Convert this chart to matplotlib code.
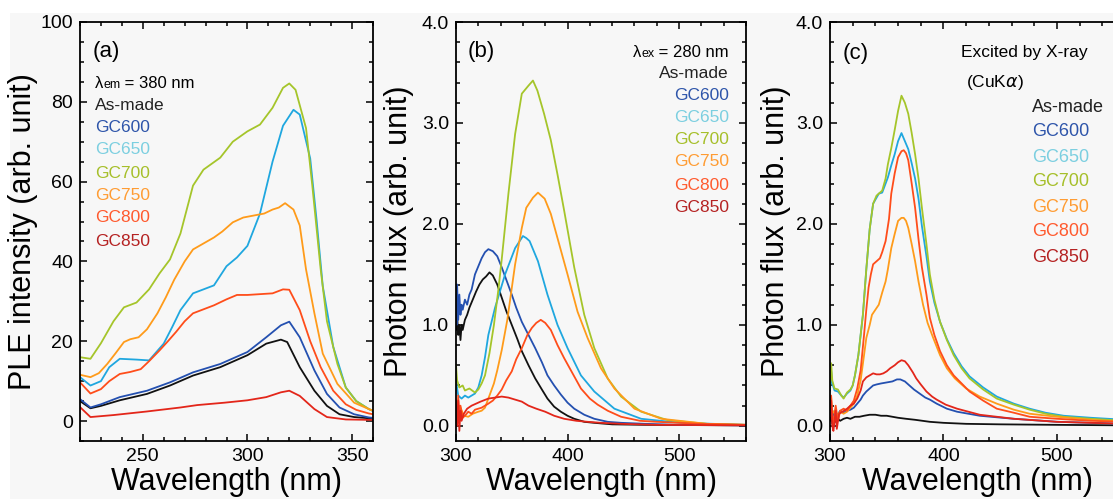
import numpy as np
import matplotlib.pyplot as plt
from matplotlib.ticker import MultipleLocator, FormatStrFormatter
from matplotlib.patches import Rectangle

plt.rcParams['font.family'] = ['Liberation Sans', 'DejaVu Sans']

W, H = 1113, 499
BG = '#f7f7f7'

names = ['As-made', 'GC600', 'GC650', 'GC700', 'GC750', 'GC800', 'GC850']
line_cols = ['#111111', '#2450b0', '#1fa7df', '#a5c52a', '#ff9b1a', '#ff4d1a', '#e3261a']
text_cols = ['#222222', '#2e55aa', '#7ccfe0', '#a6bf2a', '#ff9c33', '#ff5a2e', '#b52222']

# ---- (a) PLE, lambda_em = 380 nm ----
a_asmade_x = [220, 225, 230, 239, 252, 263, 274, 287, 300, 309, 316, 319, 325, 332, 338, 344, 351, 358, 360]
a_asmade_y = [5, 3.2, 3.8, 5.2, 6.8, 8.9, 11.4, 13.5, 16.5, 19.4, 20.4, 19.8, 13.5, 7.6, 3.8, 1.7, 1.0, 0.7, 0.7]
a_gc600_x = [220, 225, 230, 239, 252, 263, 274, 287, 300, 309, 316, 320, 325, 332, 338, 344, 351, 358, 360]
a_gc600_y = [5.5, 3.4, 4.2, 6, 7.6, 9.7, 12.2, 14.3, 17.3, 21, 24, 24.9, 21, 12.7, 6.8, 3.4, 1.7, 0.9, 0.8]
a_gc650_x = [220, 225, 230, 234, 239, 243, 247, 253, 260, 264, 268, 274, 279, 284, 290, 295, 300, 306, 312,
             317, 322, 325, 330, 333, 336, 341, 347, 352, 358, 360]
a_gc650_y = [11, 8.9, 10, 13.5, 15.6, 15.5, 15.4, 15.2, 19.4, 23.5, 27.8, 32, 33, 34, 38.8, 41, 43.9, 52, 65,
             74, 78, 76.8, 65.8, 50.6, 33.8, 18.6, 8.4, 5, 3, 2.5]
a_gc700_x = [220, 225, 230, 236, 241, 247, 253, 258, 263, 268, 274, 279, 287, 293, 300, 306, 312, 317, 320,
             323, 328, 331, 335, 338, 343, 347, 352, 358, 360]
a_gc700_y = [16.0, 15.6, 19.5, 25, 28.5, 29.7, 33.0, 37, 40.5, 47, 59, 63, 66, 70, 72.6, 74.3, 78.5, 83.5, 84.6,
             83, 73.4, 59, 38, 25, 14.3, 8.4, 5, 3, 2.6]
a_gc750_x = [220, 225, 229, 233, 237, 241, 244, 248, 252, 257, 261, 265, 270, 274, 279, 284, 288, 293, 298,
             303, 308, 312, 315, 318, 322, 325, 328, 332, 336, 343, 351, 358, 360]
a_gc750_y = [11.6, 11, 12, 14.3, 17, 19.8, 20.5, 21, 23, 27, 31, 35.4, 40, 43, 44.5, 46, 47.5, 49.8, 51,
             51.5, 52, 53, 53.5, 54.6, 53, 49, 38, 27, 16.9, 9.3, 4.6, 3, 2.6]
a_gc800_x = [220, 225, 230, 234, 239, 244, 249, 253, 258, 262, 266, 270, 274, 279, 284, 290, 295, 300, 306,
             312, 317, 320, 325, 330, 335, 341, 347, 352, 358, 360]
a_gc800_y = [9.7, 6.9, 8, 10, 11.8, 12.3, 13, 15, 17.7, 20, 22.4, 25, 27, 28, 29, 30.5, 31.6, 31.6, 31.8,
             32, 33, 32.9, 27.8, 20, 13.5, 7.6, 4.2, 2.8, 1.9, 1.7]
a_gc850_x = [220, 225, 236, 252, 268, 276, 289, 300, 309, 316, 320, 325, 332, 338, 347, 358, 360]
a_gc850_y = [3.5, 1.0, 1.5, 2.4, 3.4, 4.0, 4.6, 5.2, 6.0, 7.2, 7.6, 6.3, 3.0, 1.0, 0.4, 0.3, 0.3]

# ---- (b) PL, lambda_ex = 280 nm ----
b_asmade_x = [300, 300.5, 301, 302, 303, 304, 305, 306, 308, 310, 312, 315, 318, 321, 324, 327, 330, 333, 337,
              341, 345, 350, 355, 359, 365, 371, 377, 382, 388, 394, 400, 406, 415, 424, 440, 470, 560]
b_asmade_y = [1.05, 0.95, 1.1, 0.9, 1.0, 0.85, 1.0, 0.95, 1.05, 1.1, 1.17, 1.25, 1.33, 1.40, 1.45, 1.48, 1.52,
              1.49, 1.40, 1.27, 1.14, 1.00, 0.86, 0.74, 0.60, 0.47, 0.36, 0.27, 0.19, 0.14, 0.10, 0.07, 0.04,
              0.03, 0.015, 0.01, 0.005]
b_gc600_x = [300, 300.5, 301, 302, 303, 304, 305, 306, 308, 310, 312, 314, 317, 320, 323, 326, 329, 333, 337,
             341, 345, 350, 354, 359, 365, 371, 377, 382, 388, 394, 400, 406, 415, 424, 436, 448, 470, 500, 560]
b_gc600_y = [1.35, 1.0, 1.4, 1.05, 1.3, 1.1, 1.2, 1.15, 1.25, 1.2, 1.3, 1.35, 1.5, 1.58, 1.66, 1.72, 1.75,
             1.73, 1.68, 1.57, 1.45, 1.30, 1.17, 1.03, 0.90, 0.77, 0.63, 0.50, 0.40, 0.31, 0.23, 0.17, 0.11,
             0.07, 0.04, 0.03, 0.02, 0.01, 0.005]
b_gc650_x = [300, 302, 305, 308, 311, 314, 317, 320, 323, 326, 329, 335, 344, 353, 360, 363, 366, 369, 373.5,
             382, 391, 400, 412, 424, 442, 466, 501, 560]
b_gc650_y = [0.45, 0.3, 0.27, 0.3, 0.28, 0.3, 0.32, 0.38, 0.50, 0.68, 0.9, 1.17, 1.50, 1.76, 1.88, 1.86, 1.83,
             1.75, 1.63, 1.30, 1.00, 0.77, 0.50, 0.34, 0.17, 0.07, 0.03, 0.01]
b_gc700_x = [300, 301, 303, 306, 308, 312, 317, 320, 323, 326, 330, 334, 338, 341, 347, 353, 359, 365, 369,
             373, 379, 385, 391, 397, 406, 415, 424, 436, 448, 466, 490, 525, 560]
b_gc700_y = [0.6, 0.45, 0.38, 0.4, 0.35, 0.37, 0.33, 0.36, 0.42, 0.5, 0.72, 1.0, 1.35, 1.65, 2.3, 2.89, 3.29,
             3.37, 3.42, 3.32, 3.09, 2.83, 2.49, 2.13, 1.57, 1.10, 0.77, 0.47, 0.29, 0.14, 0.056, 0.02, 0.01]
b_gc750_x = [300, 302, 304, 307, 311, 315, 320, 323, 326, 330, 334, 337, 341, 346, 353, 359, 363, 369, 373.5,
             379.5, 385, 391, 400, 409, 418, 430, 442, 460, 484, 525, 560]
b_gc750_y = [0.2, 0.12, 0.18, 0.1, 0.09, 0.12, 0.14, 0.15, 0.18, 0.3, 0.42, 0.55, 0.75, 1.05, 1.6, 1.96, 2.16,
             2.26, 2.31, 2.25, 2.10, 1.86, 1.50, 1.13, 0.87, 0.57, 0.37, 0.17, 0.07, 0.02, 0.01]
b_gc800_x = [300, 301, 302, 303, 304, 306, 308, 311, 314, 317, 320, 323, 326, 329, 333, 337, 341, 345, 350,
             354, 359, 364, 368, 372, 376, 380, 385, 391, 397, 403, 412, 420, 427, 436, 448, 465, 480, 520, 560]
b_gc800_y = [0.25, 0.05, 0.3, 0.1, 0.2, 0.08, 0.1, 0.14, 0.12, 0.16, 0.17, 0.18, 0.2, 0.22, 0.25, 0.3, 0.36,
             0.45, 0.54, 0.66, 0.77, 0.9, 0.97, 1.02, 1.05, 1.02, 0.95, 0.80, 0.67, 0.55, 0.37, 0.27, 0.21,
             0.15, 0.09, 0.05, 0.04, 0.02, 0.01]
b_gc850_x = [300, 301, 302, 303, 304, 305, 307, 310, 314, 318, 322, 329, 335, 341, 347, 353, 359, 365, 372,
             380, 388, 397, 408, 418, 430, 448, 480, 560]
b_gc850_y = [0.2, 0.0, 0.25, -0.05, 0.15, 0.05, 0.12, 0.17, 0.2, 0.22, 0.24, 0.27, 0.28, 0.29, 0.28, 0.26,
             0.24, 0.2, 0.17, 0.14, 0.1, 0.07, 0.05, 0.04, 0.03, 0.02, 0.01, 0.005]

# ---- (c) X-ray excited luminescence ----
c_asmade_x = [300, 301, 302, 303, 305, 307, 309, 312, 315, 318, 322, 326, 330, 335, 340, 345, 350, 355, 360,
              367, 375, 388, 400, 420, 450, 500, 560]
c_asmade_y = [0.05, 0.12, 0.02, 0.08, 0.04, 0.07, 0.05, 0.07, 0.08, 0.07, 0.09, 0.09, 0.10, 0.11, 0.11, 0.10,
              0.10, 0.09, 0.08, 0.07, 0.06, 0.04, 0.03, 0.02, 0.015, 0.01, 0.005]
c_gc600_x = [300, 301, 302, 304, 306, 309, 312, 315, 318, 321, 324, 327, 329, 332, 335, 338, 341, 345, 350,
             355, 359, 362, 366, 370, 374, 379, 384, 388, 394, 403, 412, 432, 462, 500, 560]
c_gc600_y = [0.1, 0.2, 0.08, 0.15, 0.1, 0.15, 0.13, 0.15, 0.16, 0.18, 0.22, 0.26, 0.3, 0.34, 0.37, 0.40, 0.41,
             0.42, 0.43, 0.44, 0.46, 0.46, 0.44, 0.40, 0.36, 0.32, 0.28, 0.26, 0.22, 0.17, 0.14, 0.10, 0.07,
             0.04, 0.02]
c_gc650_x = [300, 301, 302, 304, 307, 310, 312, 315, 318, 320, 322, 325, 329, 332, 335, 338, 341, 343, 346,
             349, 351, 354, 357, 360, 363, 366, 369, 372, 375, 378, 381, 385, 388, 392, 397, 403, 409, 416,
             423, 435, 447, 462, 476, 490, 506, 530, 560]
c_gc650_y = [0.35, 0.55, 0.42, 0.35, 0.34, 0.3, 0.28, 0.32, 0.35, 0.4, 0.5, 0.7, 1.1, 1.55, 1.95, 2.2, 2.26,
             2.3, 2.31, 2.4, 2.46, 2.58, 2.69, 2.82, 2.9, 2.82, 2.74, 2.6, 2.45, 2.25, 1.98, 1.68, 1.43, 1.22,
             1.03, 0.86, 0.72, 0.59, 0.49, 0.38, 0.29, 0.22, 0.17, 0.13, 0.1, 0.08, 0.06]
c_gc700_x = [300, 301, 302, 304, 307, 310, 312, 315, 318, 320, 322, 325, 329, 332, 335, 338, 341, 343, 346,
             349, 351, 354, 357, 360, 363, 366, 369, 372, 375, 378, 381, 385, 388, 392, 397, 403, 409, 416,
             423, 435, 447, 462, 476, 490, 506, 530, 560]
c_gc700_y = [0.4, 0.62, 0.45, 0.37, 0.36, 0.3, 0.27, 0.33, 0.36, 0.4, 0.5, 0.7, 1.1, 1.55, 1.95, 2.2, 2.28,
             2.3, 2.33, 2.45, 2.59, 2.75, 2.93, 3.12, 3.27, 3.2, 3.09, 2.9, 2.69, 2.45, 2.16, 1.8, 1.5, 1.25,
             1.03, 0.85, 0.70, 0.57, 0.47, 0.36, 0.27, 0.21, 0.16, 0.12, 0.09, 0.07, 0.05]
c_gc750_x = [300, 301, 302, 304, 306, 309, 312, 315, 318, 321, 324, 327, 330, 332, 335, 337, 340, 343, 346,
             349, 351, 354, 357, 360, 363, 365, 367, 369, 372, 375, 378, 382, 386, 391, 397, 403, 410, 420,
             432, 447, 462, 476, 500, 530, 560]
c_gc750_y = [0.2, 0.28, 0.12, 0.15, 0.1, 0.14, 0.12, 0.14, 0.18, 0.22, 0.3, 0.45, 0.7, 0.87, 1.0, 1.1, 1.15,
             1.2, 1.32, 1.43, 1.55, 1.76, 1.9, 2.03, 2.06, 2.06, 2.03, 1.96, 1.8, 1.63, 1.43, 1.2, 1.02, 0.87,
             0.7, 0.57, 0.47, 0.37, 0.29, 0.22, 0.16, 0.12, 0.09, 0.06, 0.04]
c_gc800_x = [300, 301, 302, 303, 305, 307, 309, 312, 315, 318, 321, 324, 327, 330, 332, 334, 336, 338, 341,
             344, 346, 349, 352, 354, 357, 360, 363, 365, 367, 369, 372, 375, 378, 381, 385, 388, 392, 397,
             403, 409, 416, 423, 435, 447, 462, 476, 500, 530, 560]
c_gc800_y = [0.15, 0.3, 0.1, 0.02, 0.2, 0.05, 0.15, 0.17, 0.15, 0.2, 0.25, 0.37, 0.55, 0.9, 1.15, 1.37, 1.5,
             1.6, 1.63, 1.66, 1.72, 1.83, 2.05, 2.3, 2.5, 2.66, 2.72, 2.73, 2.7, 2.63, 2.4, 2.16, 1.85, 1.57,
             1.3, 1.07, 0.9, 0.74, 0.6, 0.5, 0.42, 0.34, 0.25, 0.17, 0.13, 0.09, 0.07, 0.05, 0.04]
c_gc850_x = [300, 301, 302, 303, 305, 306, 308, 311, 315, 318, 321, 324, 327, 329, 332, 335, 338, 341, 344,
             347, 350, 353, 357, 360, 363, 366, 369, 373, 376, 380, 385, 390, 394, 402, 412, 432, 462, 500, 560]
c_gc850_y = [0.1, 0.25, 0.0, -0.05, 0.15, -0.03, 0.12, 0.14, 0.17, 0.2, 0.22, 0.27, 0.35, 0.44, 0.48, 0.50,
             0.52, 0.51, 0.51, 0.52, 0.54, 0.57, 0.60, 0.63, 0.65, 0.64, 0.60, 0.53, 0.47, 0.41, 0.34, 0.29,
             0.26, 0.21, 0.17, 0.11, 0.07, 0.04, 0.02]

series_a = [(a_asmade_x, a_asmade_y), (a_gc600_x, a_gc600_y), (a_gc650_x, a_gc650_y), (a_gc700_x, a_gc700_y),
            (a_gc750_x, a_gc750_y), (a_gc800_x, a_gc800_y), (a_gc850_x, a_gc850_y)]
series_b = [(b_asmade_x, b_asmade_y), (b_gc600_x, b_gc600_y), (b_gc650_x, b_gc650_y), (b_gc700_x, b_gc700_y),
            (b_gc750_x, b_gc750_y), (b_gc800_x, b_gc800_y), (b_gc850_x, b_gc850_y)]
series_c = [(c_asmade_x, c_asmade_y), (c_gc600_x, c_gc600_y), (c_gc650_x, c_gc650_y), (c_gc700_x, c_gc700_y),
            (c_gc750_x, c_gc750_y), (c_gc800_x, c_gc800_y), (c_gc850_x, c_gc850_y)]


fig = plt.figure(figsize=(W / 100, H / 100), dpi=100, facecolor='white')
fig.add_artist(Rectangle((10 / W, 0), 1, 1 - 13 / H, transform=fig.transFigure,
                         facecolor=BG, edgecolor='none', zorder=-10))


def make_axes(left_px, width_px):
    ax = fig.add_axes([left_px / W, (H - 441) / H, width_px / W, (441 - 22) / H])
    ax.set_facecolor(BG)
    return ax


def style(ax, xlim, ylim, xmaj, xmin, ymaj, ymin, yfmt, ylabel, ylab_x):
    ax.set_xlim(*xlim)
    ax.set_ylim(*ylim)
    ax.xaxis.set_major_locator(MultipleLocator(xmaj))
    ax.xaxis.set_minor_locator(MultipleLocator(xmin))
    ax.yaxis.set_major_locator(MultipleLocator(ymaj))
    ax.yaxis.set_minor_locator(MultipleLocator(ymin))
    ax.yaxis.set_major_formatter(FormatStrFormatter(yfmt))
    ax.tick_params(which='both', direction='in', top=True, right=True, width=1.1, labelsize=14)
    ax.tick_params(which='major', length=5)
    ax.tick_params(which='minor', length=3)
    ax.tick_params(axis='x', pad=5)
    ax.tick_params(axis='y', pad=5)
    for s in ax.spines.values():
        s.set_linewidth(1.3)
    ax.set_xlabel('Wavelength (nm)', fontsize=22)
    ax.xaxis.set_label_coords(0.5, -0.062)
    ax.set_ylabel(ylabel, fontsize=22)
    ax.yaxis.set_label_coords(ylab_x, 0.5)


def draw(ax, series):
    for (x, y), c in zip(series, line_cols):
        ax.plot(x, y, color=c, lw=1.3)


def label_list(ax, left_px, width_px, x_px, y_list, ha, size):
    for n, c, yp in zip(names, text_cols, y_list):
        ax.text((x_px - left_px) / width_px, (441 - yp) / 419, n, color=c, fontsize=size,
                ha=ha, va='center', transform=ax.transAxes)


# panel (a)
ax1 = make_axes(80, 293)
draw(ax1, series_a)
style(ax1, (220, 360), (-5, 100), 50, 10, 20, 5, '%d', 'PLE intensity (arb. unit)', -0.143)
ax1.text((93 - 80) / 293, (441 - 51) / 419, '(a)', fontsize=16, ha='left', va='center', transform=ax1.transAxes)
t1 = ax1.text((95 - 80) / 293, (441 - 88) / 419, '\u03bb', fontsize=12, ha='left', va='baseline',
              transform=ax1.transAxes)
t2 = ax1.annotate('em', xy=(1, 0), xycoords=t1, fontsize=9, ha='left', va='bottom')
ax1.annotate(' = 380 nm', xy=(1, 0), xycoords=t2, fontsize=12, ha='left', va='bottom')
label_list(ax1, 80, 293, 95, [105, 128, 150, 173, 195, 218, 241], 'left', 12.5)

# panel (b)
ax2 = make_axes(456, 290)
draw(ax2, series_b)
style(ax2, (300, 560), (-0.15, 4.0), 100, 20, 1.0, 0.2, '%.1f', 'Photon flux (arb. unit)', -0.145)
ax2.text((468 - 456) / 290, (441 - 51) / 419, '(b)', fontsize=16, ha='left', va='center', transform=ax2.transAxes)
u1 = ax2.text((729 - 456) / 290, (441 - 57) / 419, ' = 280 nm', fontsize=12, ha='right', va='baseline',
              transform=ax2.transAxes)
u2 = ax2.annotate('ex', xy=(0, 0), xycoords=u1, fontsize=9, ha='right', va='bottom')
ax2.annotate('\u03bb', xy=(0, 0), xycoords=u2, fontsize=12, ha='right', va='bottom')
label_list(ax2, 456, 290, 729, [73, 95, 118, 140, 162, 185, 208], 'right', 12.5)

# panel (c), cut at the right edge of the figure
ax3 = make_axes(830, 295)
draw(ax3, series_c)
style(ax3, (300, 560), (-0.15, 4.0), 100, 20, 1.0, 0.2, '%.1f', 'Photon flux (arb. unit)', -0.132)
ax3.text((843 - 830) / 295, (441 - 53) / 419, '(c)', fontsize=16, ha='left', va='center', transform=ax3.transAxes)
ax3.text((961 - 830) / 295, (441 - 53) / 419, 'Excited by X-ray', fontsize=12.5, ha='left', va='center',
         transform=ax3.transAxes)
ax3.text((966 - 830) / 295, (441 - 82) / 419, '(CuK$\\alpha$)', fontsize=12.5, ha='left', va='center',
         transform=ax3.transAxes)
label_list(ax3, 830, 295, 1032, [108, 132, 157, 182, 207, 232, 257], 'left', 13)

fig.savefig('out.png', dpi=100, facecolor=fig.get_facecolor())
